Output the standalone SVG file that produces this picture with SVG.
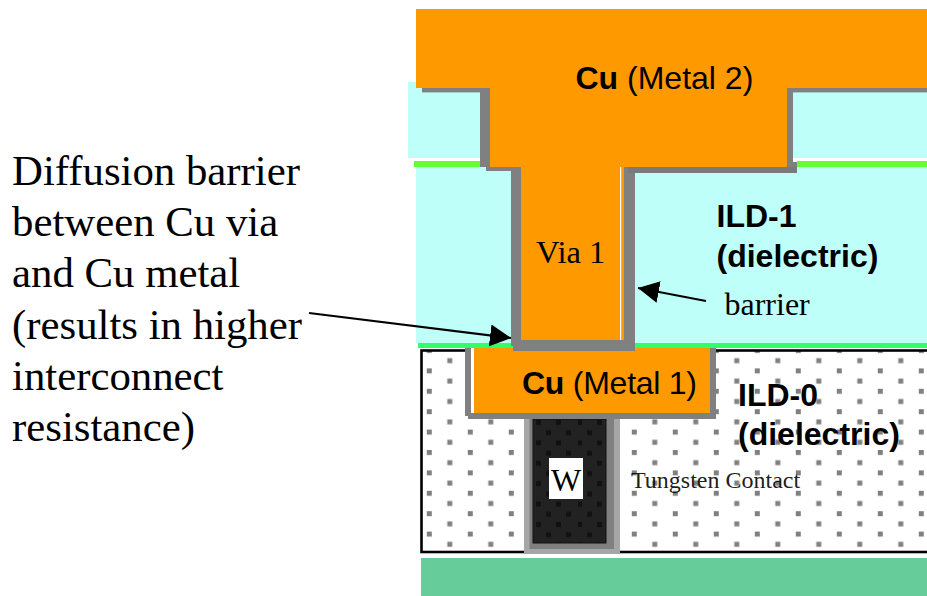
<svg xmlns="http://www.w3.org/2000/svg" width="927" height="596" viewBox="0 0 927 596">
<style>
.cu{fill:#ff9900}.bar{fill:#808080}.ild1{fill:#bffff9}
.serif{font-family:"Liberation Serif","Times New Roman",serif;fill:#000}
.sans{font-family:"Liberation Sans",Arial,sans-serif;fill:#000}
.b{font-weight:bold}
.note{font-size:42.8px}
.arrow{stroke:#000;stroke-width:2.2;fill:none;marker-end:url(#head)}
</style>
<defs>
<pattern id="dots" patternUnits="userSpaceOnUse" x="426.8" y="409.2" width="41" height="20.4"><rect width="41" height="20.4" fill="#fff"/><rect width="5" height="5" fill="#808080"/><rect x="20.5" y="10.2" width="5" height="5" fill="#808080"/></pattern>
<pattern id="wdots" patternUnits="userSpaceOnUse" x="536" y="420" width="41" height="20.4"><rect width="41" height="20.4" fill="#222"/><rect width="5" height="5" fill="#111"/><rect x="20" y="0" width="5" height="5" fill="#111"/><rect x="10" y="10.2" width="5" height="5" fill="#111"/><rect x="30" y="10.2" width="5" height="5" fill="#111"/></pattern>
<marker id="head" markerUnits="userSpaceOnUse" markerWidth="24" markerHeight="24" refX="21" refY="11" orient="auto"><path d="M0 0L21 11L0 22Z" fill="#000"/></marker>
</defs>
<rect width="927" height="596" fill="#fff"/>
<g id="substrate"><rect x="421" y="558" width="506" height="38" fill="#66cc99"/></g>
<g id="ild-0">
<rect x="421.5" y="350.5" width="510" height="201.5" fill="url(#dots)" stroke="#000" stroke-width="2.6"/>
<text class="sans b" x="738" y="406" font-size="32">ILD-0</text>
<text class="sans b" x="738" y="445" font-size="32">(dielectric)</text>
</g>
<g id="ild-1">
<rect class="ild1" x="408" y="82" width="72" height="76"/>
<rect class="ild1" x="793" y="92" width="134" height="66"/>
<rect x="414" y="161" width="66" height="6" fill="#66ff33"/>
<rect x="797" y="161" width="130" height="6" fill="#66ff33"/>
<rect class="ild1" x="416" y="167" width="511" height="176"/>
<rect x="418" y="343" width="509" height="5" fill="#33ff66"/>
<text class="sans b" x="716.5" y="227" font-size="32">ILD-1</text>
<text class="sans b" x="716.5" y="267" font-size="32">(dielectric)</text>
</g>
<g id="tungsten">
<rect x="524" y="419" width="96" height="135" fill="#a6a6a6"/>
<rect x="529.5" y="419" width="84.5" height="130" fill="#808080"/>
<rect x="533" y="419" width="73" height="124" fill="url(#wdots)" stroke="#111" stroke-width="1"/>
<rect x="549" y="458" width="34" height="41" fill="#fff"/>
<text class="serif" x="566" y="491" font-size="32" text-anchor="middle">W</text>
<text class="serif" x="631" y="488" font-size="24" fill-opacity=".9">Tungsten Contact</text>
</g>
<g id="metal-1">
<rect class="bar" x="465" y="348" width="6" height="68"/>
<rect class="bar" x="468" y="413" width="248" height="6"/>
<rect class="bar" x="710" y="348" width="6" height="71"/>
<rect x="471" y="349" width="3" height="64" fill="#fff"/>
<rect class="cu" x="474" y="348" width="236" height="65"/>
<text class="sans" x="522" y="394" font-size="32" textLength="175"><tspan class="b">Cu</tspan> (Metal 1)</text>
</g>
<g id="via-1">
<rect class="bar" x="511" y="167" width="10" height="179"/>
<rect class="bar" x="624" y="167" width="11" height="179"/>
<rect class="bar" x="513" y="340" width="122" height="11"/>
<rect class="cu" x="521" y="160" width="103" height="180"/>
<rect x="620" y="166" width="1.2" height="174" fill="#fff"/>
<text class="serif" x="536" y="263" font-size="32.5">Via 1</text>
</g>
<g id="metal-2">
<rect class="bar" x="422" y="88" width="60" height="4.4"/>
<rect class="bar" x="480" y="88" width="10" height="79"/>
<rect class="bar" x="486" y="166.5" width="31" height="4.5"/>
<rect class="bar" x="787" y="88" width="140" height="4.4"/>
<rect class="bar" x="787" y="88" width="6" height="85"/>
<rect class="bar" x="787" y="162" width="10" height="11"/>
<rect x="628" y="167" width="169" height="6" fill="#7a7a7a"/>
<path class="cu" d="M416 9H927V88H787V167H490V88H416Z"/>
<text class="sans" x="575.5" y="89" font-size="32"><tspan class="b">Cu</tspan> (Metal 2)</text>
</g>
<g id="connectors">
<line class="arrow" x1="309" y1="313" x2="511" y2="338"/>
<line class="arrow" x1="706" y1="301" x2="638" y2="288"/>
</g>
<g id="labels">
<text class="serif note" x="12" y="185">Diffusion barrier</text>
<text class="serif note" x="12" y="236">between Cu via</text>
<text class="serif note" x="12" y="287">and Cu metal</text>
<text class="serif note" x="12" y="339">(results in higher</text>
<text class="serif note" x="12" y="390">interconnect</text>
<text class="serif note" x="12" y="441">resistance)</text>
<text class="serif" x="724.5" y="315" font-size="32">barrier</text>
</g>
</svg>
